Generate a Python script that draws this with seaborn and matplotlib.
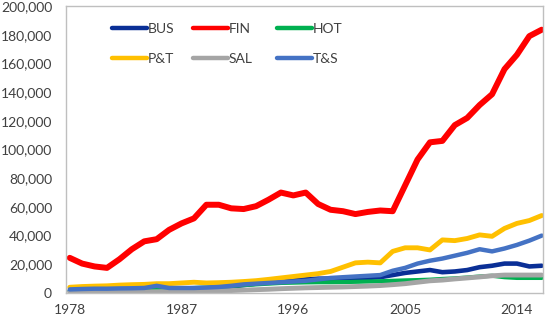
import matplotlib
matplotlib.use("Agg")
import matplotlib.pyplot as plt
import seaborn as sns
import pandas as pd
from matplotlib.ticker import FuncFormatter
from matplotlib.lines import Line2D

years = list(range(1978, 2017))
series_names = ["BUS", "FIN", "HOT", "P&T", "SAL", "T&S"]

BUS = [1500, 1800, 2000, 2000, 2200, 2300, 2500, 2800, 2800, 2800,
       3000, 3300, 3800, 4500, 5500, 6500, 7500, 8500, 9000, 9500,
       10000, 10000, 10200, 10500, 10500, 11000, 12500, 14000, 15000, 16000,
       14500, 15000, 16000, 18000, 19000, 20500, 20500, 18500, 19000]
FIN = [24500, 20500, 18500, 17500, 23500, 30500, 36000, 37500, 44000, 48500,
       52000, 61500, 61500, 59000, 58500, 60500, 65000, 70000, 68000, 70000,
       62000, 58000, 57000, 55000, 56500, 57500, 57000, 75000, 93000, 105000,
       106000, 117000, 122000, 131000, 138500, 156000, 166000, 179000, 183500]
HOT = [1500, 1700, 1900, 2000, 2200, 2400, 2600, 2800, 3000, 3200,
       3500, 3800, 4200, 4800, 5500, 6000, 6500, 7000, 7200, 7400,
       7500, 7500, 7600, 7800, 8000, 8200, 8500, 8800, 9000, 9300,
       9800, 10200, 10800, 11500, 12000, 11000, 10500, 10500, 10500]
PT = [4000, 4500, 4800, 5000, 5500, 5800, 6000, 6500, 6500, 7000,
      7500, 7000, 7200, 7500, 8000, 8600, 9500, 10500, 11500, 12500,
      13500, 15000, 18000, 21000, 21500, 21000, 29000, 31500, 31500, 30000,
      37000, 36500, 38000, 40500, 39500, 45000, 48500, 50500, 54000]
SAL = [500, 500, 600, 600, 700, 700, 800, 900, 1000, 1000,
       1100, 1200, 1400, 1700, 2000, 2300, 2600, 3000, 3300, 3600,
       3800, 4000, 4200, 4500, 4800, 5200, 5800, 6500, 7500, 8500,
       9000, 9800, 10500, 11200, 12000, 12500, 12500, 12500, 12500]
TS = [2500, 2800, 3000, 3000, 3200, 3300, 3500, 5000, 3500, 3500,
      3500, 3800, 4200, 5000, 6000, 6500, 7000, 7500, 8000, 8500,
      9500, 10500, 11000, 11500, 12000, 12500, 15500, 17500, 20500, 22500,
      24000, 26000, 28000, 30500, 29000, 31000, 33500, 36500, 40000]

x_ticks = [1978, 1987, 1996, 2005, 2014]
y_ticks = list(range(0, 200001, 20000))

colors = {"BUS": "#0A2F96", "FIN": "#FF0000", "HOT": "#00B050",
          "P&T": "#FFC000", "SAL": "#A5A5A5", "T&S": "#4472C4"}
widths = {"BUS": 3.3, "FIN": 4.3, "HOT": 3.0, "P&T": 3.5, "SAL": 3.5, "T&S": 3.2}

values = {"BUS": BUS, "FIN": FIN, "HOT": HOT, "P&T": PT, "SAL": SAL, "T&S": TS}
df = pd.DataFrame([(y, n, v) for n in series_names for y, v in zip(years, values[n])],
                  columns=["year", "series", "value"])

sns.set_style("white")
plt.rcParams["font.family"] = ["Lato", "DejaVu Sans"]

fig = plt.figure(figsize=(5.5, 3.22), dpi=100)
ax = fig.add_axes([66 / 550, 1 - 293 / 322, (543 - 66) / 550, (293 - 6) / 322])

for n in series_names:
    sub = df[df["series"] == n]
    sns.lineplot(data=sub, x="year", y="value", ax=ax, color=colors[n],
                 linewidth=widths[n], legend=False, solid_capstyle="round",
                 solid_joinstyle="round")

ax.set_xlim(1977.7, 2016.1)
ax.set_ylim(0, 200000)
ax.set_xticks(x_ticks)
ax.set_yticks(y_ticks)
ax.yaxis.set_major_formatter(FuncFormatter(lambda v, p: f"{int(v):,}"))
ax.set_xlabel("")
ax.set_ylabel("")
ax.tick_params(axis="both", length=0, labelsize=10, colors="#404040")
ax.tick_params(axis="y", pad=10)
ax.tick_params(axis="x", pad=8)
for s in ax.spines.values():
    s.set_visible(True)
    s.set_color("#BFBFBF")
    s.set_linewidth(1.0)
ax.grid(False)

# legend: three columns placed at fixed pixel positions
cols = [("BUS", "P&T"), ("FIN", "SAL"), ("HOT", "T&S")]
col_x = [112, 193, 277]
legs = []
for names, px in zip(cols, col_x):
    handles = [Line2D([0], [0], color=colors[n], linewidth=3.2, solid_capstyle="round")
               for n in names]
    leg = ax.legend(handles, names, loc="upper left",
                    bbox_to_anchor=((px - 66) / 477, (293 - 23) / 287),
                    frameon=False, borderpad=0, borderaxespad=0,
                    handlelength=2.5, handletextpad=0.05, labelspacing=1.3,
                    fontsize=10, labelcolor="#404040")
    legs.append(leg)
for leg in legs[:-1]:
    ax.add_artist(leg)

fig.savefig("out.png", dpi=100)
